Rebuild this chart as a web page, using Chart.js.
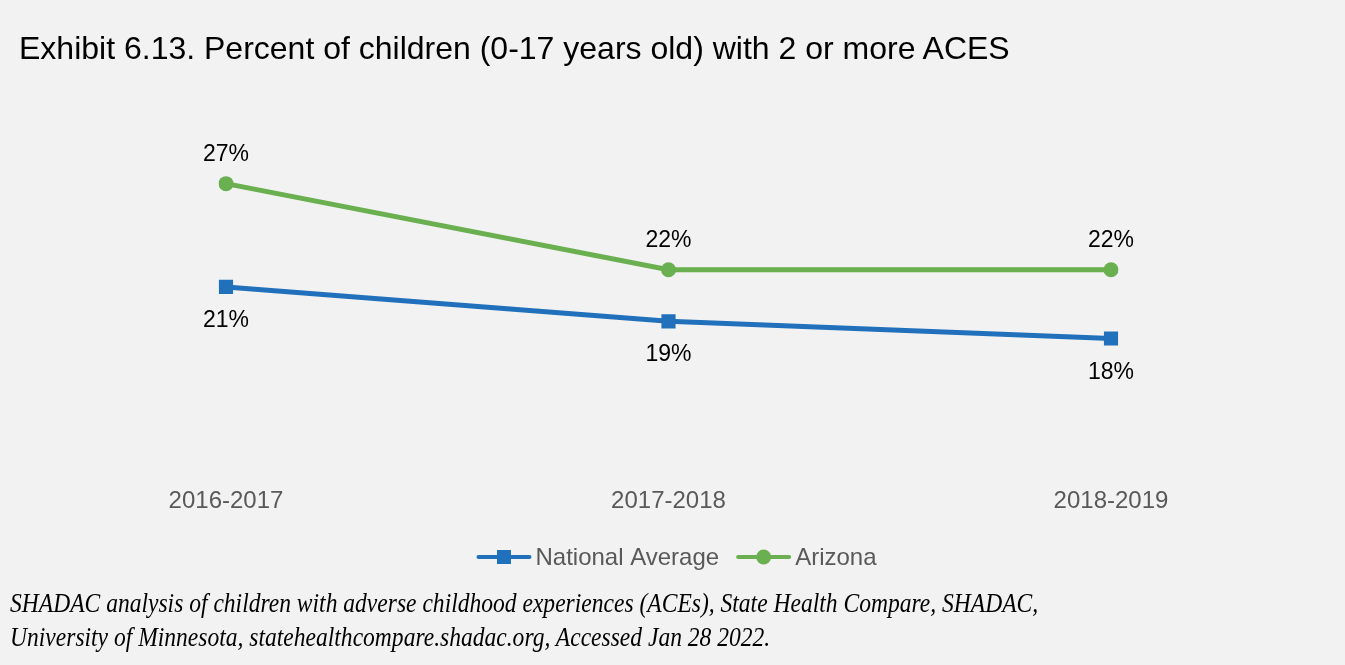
<!DOCTYPE html>
<html>
<head>
<meta charset="utf-8">
<script src="https://cdn.jsdelivr.net/npm/chart.js@4.4.1/dist/chart.umd.min.js"></script>
<style>
  html, body { margin: 0; padding: 0; background: #f2f2f2; }
  #wrap { position: relative; width: 1345px; height: 665px; overflow: hidden; }
  #chart { position: absolute; left: 0; top: 0; }
  .title {
    position: absolute; left: 19px; top: 30px; white-space: nowrap;
    font: 32px 'Liberation Sans', Arial, sans-serif; color: #000;
  }
  .source {
    position: absolute; left: 10px; top: 586px; white-space: nowrap;
    font: italic 27px/34px 'Liberation Serif', 'Times New Roman', serif; color: #000;
    transform: scaleX(0.872); transform-origin: left top;
  }
</style>
</head>
<body>
<div id="wrap">
  <canvas id="chart" width="1345" height="665"></canvas>
  <div class="title">Exhibit 6.13. Percent of children (0-17 years old) with 2 or more ACES</div>
  <div class="source">SHADAC analysis of children with adverse childhood experiences (ACEs), State Health Compare, SHADAC,<br>University of Minnesota, statehealthcompare.shadac.org, Accessed Jan 28 2022.</div>
</div>
<script>
'use strict';

/* ───── DATA ───────────────────────────────────────────────────────────── */
const periods  = ['2016-2017', '2017-2018', '2018-2019'];
const national = [21, 19, 18];
const arizona  = [27, 22, 22];

const BLUE  = '#2170bb';
const GREEN = '#6aaf50';
const FONT  = "'Liberation Sans', Arial, sans-serif";

/* ───── DATA LABELS (above for Arizona, below for national) ────────────── */
const valueLabels = {
    id: 'valueLabels',
    afterDatasetsDraw(chart) {
        const { ctx } = chart;
        ctx.save();
        ctx.font = `23px ${FONT}`;
        ctx.fillStyle = '#000';
        ctx.textAlign = 'center';
        ctx.textBaseline = 'alphabetic';
        chart.data.datasets.forEach((ds, i) => {
            const below = ds.labelPos === 'below';
            chart.getDatasetMeta(i).data.forEach((pt, j) => {
                const y = below ? pt.y + 40 : pt.y - 22.5;
                ctx.fillText(ds.data[j] + '%', pt.x, y);
            });
        });
        ctx.restore();
    },
};

/* ───── LEGEND (line + marker, centred under the axis) ─────────────────── */
const lineLegend = {
    id: 'lineLegend',
    afterDraw(chart) {
        const { ctx } = chart;
        const lineLen = 55, gapText = 4, gapItem = 17, cy = 557;
        ctx.save();
        ctx.font = `24px ${FONT}`;
        const items = chart.data.datasets.map(ds => ({ ds, w: lineLen + gapText + ctx.measureText(ds.label).width }));
        const total = items.reduce((s, it) => s + it.w, 0) + gapItem * (items.length - 1);
        let x = (chart.width - total) / 2 + 4;
        items.forEach(({ ds, w }) => {
            ctx.strokeStyle = ds.borderColor;
            ctx.lineWidth = 4;
            ctx.lineCap = 'round';
            ctx.beginPath(); ctx.moveTo(x + 2, cy); ctx.lineTo(x + lineLen - 2, cy); ctx.stroke();
            ctx.fillStyle = ds.borderColor;
            const mx = x + lineLen / 2;
            if (ds.pointStyle === 'rect') {
                ctx.fillRect(mx - 7, cy - 7, 14, 14);
            } else {
                ctx.beginPath(); ctx.arc(mx, cy, 7.5, 0, Math.PI * 2); ctx.fill();
            }
            ctx.fillStyle = '#595959';
            ctx.textAlign = 'left';
            ctx.textBaseline = 'middle';
            ctx.fillText(ds.label, x + lineLen + gapText, cy + 1);
            x += w + gapItem;
        });
        ctx.restore();
    },
};

/* ───── CHART ──────────────────────────────────────────────────────────── */
new Chart(document.getElementById('chart').getContext('2d'), {
    type: 'line',
    data: {
        labels: periods,
        datasets: [
            {
                label: 'National Average', data: national, labelPos: 'below',
                borderColor: BLUE, backgroundColor: BLUE,
                borderWidth: 5, pointStyle: 'rect', pointRadius: 10,
                pointBorderWidth: 0, tension: 0,
            },
            {
                label: 'Arizona', data: arizona, labelPos: 'above',
                borderColor: GREEN, backgroundColor: GREEN,
                borderWidth: 5, pointStyle: 'circle', pointRadius: 7.5,
                pointBorderWidth: 0, tension: 0,
            },
        ],
    },
    options: {
        responsive: false, animation: false,
        layout: { padding: { left: 226, right: 234, top: 132, bottom: 138 } },
        plugins: { legend: { display: false }, title: { display: false }, tooltip: { enabled: false } },
        scales: {
            x: {
                offset: false,
                grid: { display: false, drawTicks: false },
                border: { display: false },
                ticks: { color: '#595959', font: { family: FONT, size: 24 }, padding: 11, maxRotation: 0 },
            },
            y: { display: false, min: 10, max: 30 },
        },
    },
    plugins: [valueLabels, lineLegend],
});
</script>
</body>
</html>
